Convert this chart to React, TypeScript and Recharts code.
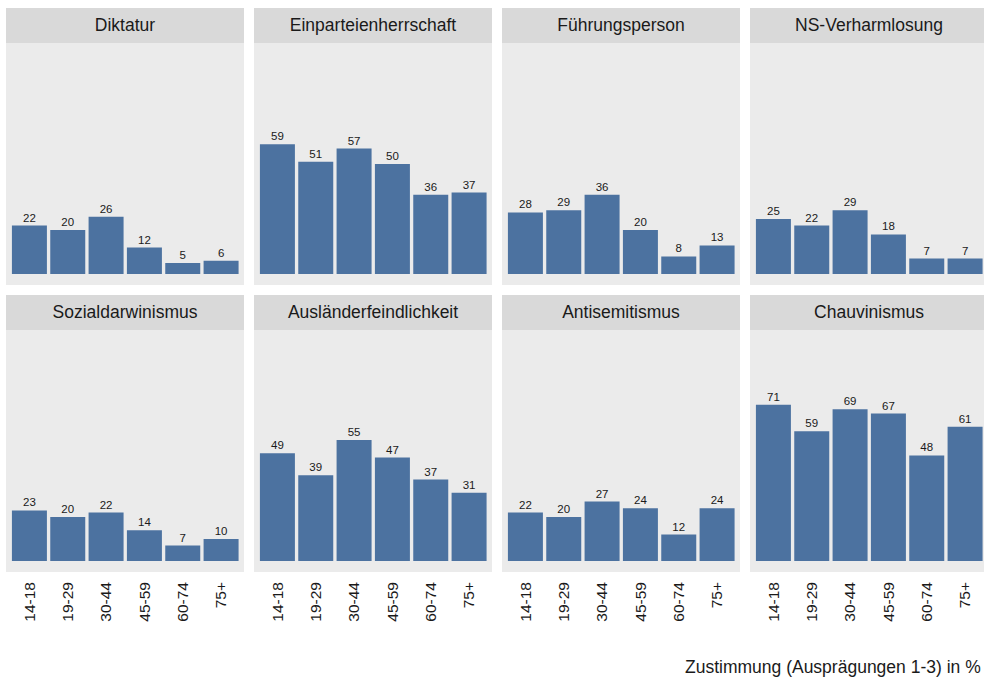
import React from 'react';
import { BarChart, Bar, XAxis, YAxis, CartesianGrid, LabelList } from 'recharts';

const ageGroups = ['14-18', '19-29', '30-44', '45-59', '60-74', '75+'];

const facetTitles = [
    'Diktatur',
    'Einparteienherrschaft',
    'Führungsperson',
    'NS-Verharmlosung',
    'Sozialdarwinismus',
    'Ausländerfeindlichkeit',
    'Antisemitismus',
    'Chauvinismus',
];

const diktatur = [22, 20, 26, 12, 5, 6];
const einparteienherrschaft = [59, 51, 57, 50, 36, 37];
const fuehrungsperson = [28, 29, 36, 20, 8, 13];
const nsVerharmlosung = [25, 22, 29, 18, 7, 7];
const sozialdarwinismus = [23, 20, 22, 14, 7, 10];
const auslaenderfeindlichkeit = [49, 39, 55, 47, 37, 31];
const antisemitismus = [22, 20, 27, 24, 12, 24];
const chauvinismus = [71, 59, 69, 67, 48, 61];

const facetValues = [
    diktatur,
    einparteienherrschaft,
    fuehrungsperson,
    nsVerharmlosung,
    sozialdarwinismus,
    auslaenderfeindlichkeit,
    antisemitismus,
    chauvinismus,
];

const caption = 'Zustimmung (Ausprägungen 1-3) in %';

const FONT = '"Liberation Sans", Arial, Helvetica, sans-serif';
const BAR = '#4C72A0';
const PANEL_W = 238;
const STRIP_H = 35;
const PLOT_H = 242;
const AXIS_H = 60;

const AgeTick = (props: any) => {
    const { x, y, payload } = props;
    return (
        <text
            transform={`translate(${x},${y + 10}) rotate(-90)`}
            textAnchor="end"
            dy="0.35em"
            fontSize={15.5}
            fontFamily={FONT}
            fill="#1a1a1a"
        >
            {payload.value}
        </text>
    );
};

interface facetProps {
    title: string
    values: number[]
    showAxis: boolean
    left: number
    top: number
}

const Facet: React.FC<facetProps> = ({ title, values, showAxis, left, top }: facetProps) => {
    const data = ageGroups.map((g, i) => ({ age: g, value: values[i] }));
    return (
        <div style={{ position: 'absolute', left, top, width: PANEL_W }}>
            <div
                style={{
                    height: STRIP_H,
                    lineHeight: `${STRIP_H}px`,
                    background: '#D9D9D9',
                    textAlign: 'center',
                    fontSize: 17.5,
                    color: '#1a1a1a',
                }}
            >
                {title}
            </div>
            <BarChart
                width={PANEL_W}
                height={PLOT_H + (showAxis ? AXIS_H : 0)}
                data={data}
                margin={{ top: 0, right: 0, bottom: 0, left: 0 }}
                barCategoryGap="5%"
            >
                <CartesianGrid fill="#EBEBEB" stroke="none" horizontal={false} vertical={false} />
                <XAxis
                    dataKey="age"
                    hide={!showAxis}
                    height={AXIS_H}
                    padding={{ left: 4, right: 4 }}
                    axisLine={false}
                    tickLine={false}
                    tickSize={0}
                    tickMargin={0}
                    interval={0}
                    tick={<AgeTick />}
                />
                <YAxis hide type="number" domain={[-5, 105]} allowDataOverflow />
                <Bar dataKey="value" fill={BAR} isAnimationActive={false}>
                    <LabelList
                        dataKey="value"
                        position="top"
                        offset={4}
                        fontSize={11.5}
                        fontFamily={FONT}
                        fill="#1a1a1a"
                    />
                </Bar>
            </BarChart>
        </div>
    );
};

const App: React.FC = () => (
    <div
        style={{
            position: 'absolute',
            left: 0,
            top: 0,
            width: 984,
            height: 677,
            overflow: 'hidden',
            background: '#fff',
            fontFamily: FONT,
        }}
    >
        {facetTitles.map((t, i) => (
            <Facet
                key={t}
                title={t}
                values={facetValues[i]}
                showAxis={i >= 4}
                left={6 + (i % 4) * 248}
                top={i < 4 ? 8 : 295}
            />
        ))}
        <div
            style={{
                position: 'absolute',
                left: 685,
                top: 657,
                fontSize: 17.5,
                lineHeight: '20px',
                whiteSpace: 'nowrap',
                color: '#1a1a1a',
            }}
        >
            {caption}
        </div>
    </div>
);

export default App;
